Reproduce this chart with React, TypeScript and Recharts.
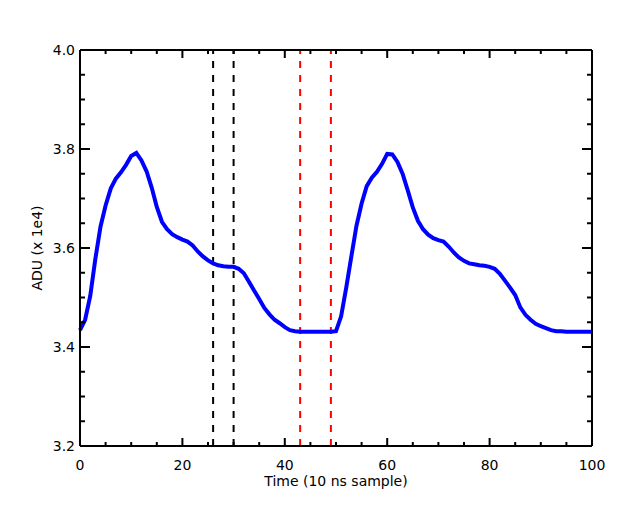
import { LineChart, Line, XAxis, YAxis, ReferenceLine } from "recharts"

// ADU samples, one per 10 ns step (t = 0..100), in units of 1e4
const adu = [
  3.434, 3.455, 3.503, 3.578, 3.643, 3.686, 3.72, 3.74, 3.753, 3.768,
  3.786, 3.792, 3.777, 3.755, 3.722, 3.683, 3.653, 3.638, 3.628, 3.622,
  3.617, 3.613, 3.605, 3.593, 3.583, 3.575, 3.569, 3.565, 3.563, 3.562,
  3.562, 3.558, 3.549, 3.532, 3.514, 3.497, 3.479, 3.466, 3.455, 3.448,
  3.44, 3.434, 3.432, 3.431, 3.431, 3.431, 3.431, 3.431, 3.431, 3.431,
  3.432, 3.462, 3.52, 3.583, 3.645, 3.69, 3.725, 3.742, 3.754, 3.77,
  3.79, 3.789, 3.774, 3.75, 3.717, 3.682, 3.655, 3.638, 3.627, 3.62,
  3.616, 3.613, 3.603, 3.591, 3.581, 3.574, 3.569, 3.567, 3.565, 3.564,
  3.562, 3.558, 3.548, 3.534, 3.52, 3.505, 3.48, 3.465, 3.455, 3.447,
  3.442, 3.438, 3.434, 3.432, 3.432, 3.431, 3.431, 3.431, 3.431, 3.431,
  3.431,
]

const blackMarks = [26, 30]
const redMarks = [43, 49]

const xTicks = [0, 5, 10, 15, 20, 25, 30, 35, 40, 45, 50, 55, 60, 65, 70, 75, 80, 85, 90, 95, 100]
const xMajor = [0, 20, 40, 60, 80, 100]
const yTicks = [3.2, 3.25, 3.3, 3.35, 3.4, 3.45, 3.5, 3.55, 3.6, 3.65, 3.7, 3.75, 3.8, 3.85, 3.9, 3.95, 4.0]
const yMajor = [3.2, 3.4, 3.6, 3.8, 4.0]

const data = adu.map((v, i) => ({ t: i, adu: v }))

const FONT = "DejaVu Sans"
const PLOT_LEFT = 80
const PLOT_RIGHT = 592

const isMajorY = (v: number) => yMajor.some((m) => Math.abs(m - v) < 1e-6)

function BottomTick(props: any) {
  const { x, y, payload } = props
  const major = xMajor.includes(payload.value)
  return (
    <g>
      <line x1={x} y1={y} x2={x} y2={y - (major ? 8 : 4)} stroke="#000" strokeWidth={2} />
      {major && (
        <text x={x} y={y + 24} textAnchor="middle" fontFamily={FONT} fontSize={14} fill="#000">
          {payload.value}
        </text>
      )}
    </g>
  )
}

function TopTick(props: any) {
  const { x, y, payload } = props
  const major = xMajor.includes(payload.value)
  return <line x1={x} y1={y} x2={x} y2={y + (major ? 8 : 4)} stroke="#000" strokeWidth={2} />
}

function LeftTick(props: any) {
  const { y, payload } = props
  const major = isMajorY(payload.value)
  return (
    <g>
      <line x1={PLOT_LEFT} y1={y} x2={PLOT_LEFT + (major ? 10 : 5)} y2={y} stroke="#000" strokeWidth={2} />
      {major && (
        <text x={PLOT_LEFT - 5} y={y} dy="0.36em" textAnchor="end" fontFamily={FONT} fontSize={14} fill="#000">
          {payload.value.toFixed(1)}
        </text>
      )}
    </g>
  )
}

function RightTick(props: any) {
  const { y, payload } = props
  const major = isMajorY(payload.value)
  return <line x1={PLOT_RIGHT} y1={y} x2={PLOT_RIGHT - (major ? 10 : 5)} y2={y} stroke="#000" strokeWidth={2} />
}

export default function App() {
  const axisLine = { stroke: "#000", strokeWidth: 2 }
  return (
    <div style={{ position: "absolute", left: 0, top: 0, background: "#fff" }}>
      <LineChart width={640} height={512} data={data} margin={{ top: 49, right: 47, bottom: 36, left: 0 }}>
        <XAxis
          xAxisId="b"
          dataKey="t"
          type="number"
          domain={[0, 100]}
          ticks={xTicks}
          interval={0}
          height={30}
          tickSize={0}
          tickMargin={0}
          tickLine={false}
          axisLine={axisLine}
          tick={<BottomTick />}
          label={{ value: "Time (10 ns sample)", position: "insideBottom", offset: -10, fontFamily: FONT, fontSize: 14, fill: "#000" }}
        />
        <XAxis
          xAxisId="t"
          orientation="top"
          dataKey="t"
          type="number"
          domain={[0, 100]}
          ticks={xTicks}
          interval={0}
          height={1}
          tickSize={0}
          tickMargin={0}
          tickLine={false}
          axisLine={axisLine}
          tick={<TopTick />}
        />
        <YAxis
          yAxisId="l"
          type="number"
          domain={[3.2, 4.0]}
          ticks={yTicks}
          interval={0}
          width={80}
          tickSize={0}
          tickMargin={0}
          tickLine={false}
          axisLine={axisLine}
          allowDataOverflow
          tick={<LeftTick />}
          label={{ value: "ADU (x 1e4)", angle: -90, position: "insideLeft", offset: 37, fontFamily: FONT, fontSize: 14, fill: "#000", style: { textAnchor: "middle" } }}
        />
        <YAxis
          yAxisId="r"
          orientation="right"
          type="number"
          domain={[3.2, 4.0]}
          ticks={yTicks}
          interval={0}
          width={1}
          tickSize={0}
          tickMargin={0}
          tickLine={false}
          axisLine={axisLine}
          allowDataOverflow
          tick={<RightTick />}
        />
        {blackMarks.map((m) => (
          <ReferenceLine key={"k" + m} xAxisId="b" yAxisId="l" x={m} stroke="#000" strokeWidth={2} strokeDasharray="7 7" />
        ))}
        {redMarks.map((m) => (
          <ReferenceLine key={"r" + m} xAxisId="b" yAxisId="l" x={m} stroke="#ff0000" strokeWidth={2} strokeDasharray="7 7" />
        ))}
        <Line
          xAxisId="b"
          yAxisId="l"
          dataKey="adu"
          type="linear"
          stroke="#0000ff"
          strokeWidth={4}
          dot={false}
          isAnimationActive={false}
        />
      </LineChart>
    </div>
  )
}
